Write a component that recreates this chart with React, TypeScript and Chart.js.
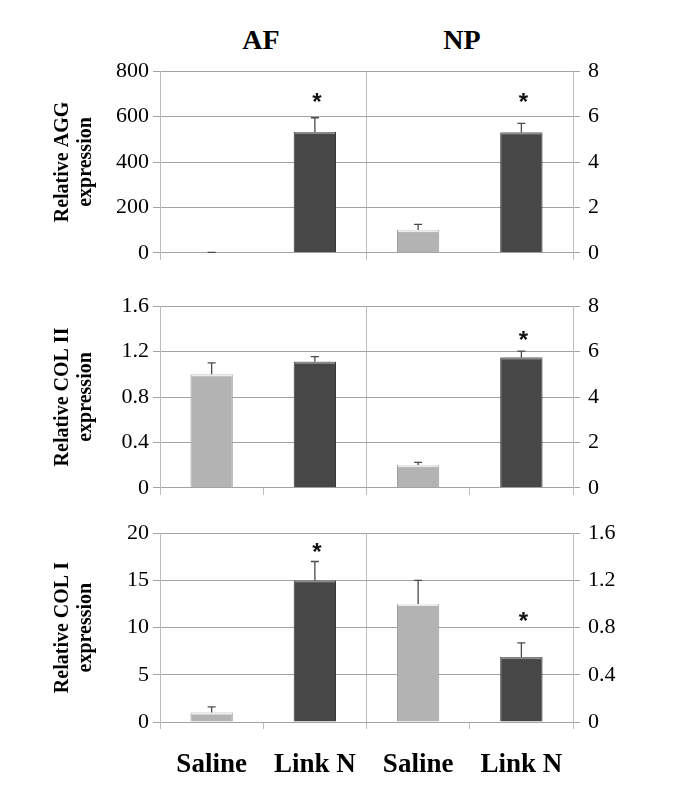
import React, { useEffect, useRef } from 'react';
import { Chart, registerables } from 'chart.js';
Chart.register(...registerables);

// ---------- data ----------
const categories = ['Saline', 'Link N', 'Saline', 'Link N'];
const groupTitles = ['AF', 'NP'];

// Panel 1: AGG
const aggAF = [1, 532];
const aggAFErr = [0.5, 63];
const aggNP = [1.0, 5.3];
const aggNPErr = [0.25, 0.4];
const aggAFStar = [null, 690];
const aggNPStar = [null, 6.9];
const aggLeftTicks = ['0', '200', '400', '600', '800'];
const aggRightTicks = ['0', '2', '4', '6', '8'];

// Panel 2: COL II
const col2AF = [1.0, 1.11];
const col2AFErr = [0.1, 0.045];
const col2NP = [1.0, 5.74];
const col2NPErr = [0.12, 0.28];
const col2AFStar = [null, null];
const col2NPStar = [null, 6.75];
const col2LeftTicks = ['0', '0.4', '0.8', '1.2', '1.6'];
const col2RightTicks = ['0', '2', '4', '6', '8'];

// Panel 3: COL I
const col1AF = [1.0, 15.0];
const col1AFErr = [0.6, 2.0];
const col1NP = [1.0, 0.55];
const col1NPErr = [0.2, 0.12];
const col1AFStar = [null, 18.6];
const col1NPStar = [null, 0.9];
const col1LeftTicks = ['0', '5', '10', '15', '20'];
const col1RightTicks = ['0', '0.4', '0.8', '1.2', '1.6'];

// ---------- styles ----------
const SERIF = "'Liberation Serif', 'Times New Roman', serif";
Chart.defaults.font.family = SERIF;
const LIGHT = '#b3b3b3';
const DARK = '#474747';
const GRID = '#a3a3a3';
const VGRID = '#bcbcbc';

type PanelCfg = {
  af: number[]; afErr: number[]; np: number[]; npErr: number[];
  afStar: (number | null)[]; npStar: (number | null)[];
  leftMax: number; leftStep: number; rightMax: number; rightStep: number;
  leftTicks: string[]; rightTicks: string[];
  title: string[]; showLabels: boolean; allTickMarks: boolean;
  top: number; height: number; xHeight: number;
};

const panels: PanelCfg[] = [
  {
    af: aggAF, afErr: aggAFErr, np: aggNP, npErr: aggNPErr, afStar: aggAFStar, npStar: aggNPStar,
    leftMax: 800, leftStep: 200, rightMax: 8, rightStep: 2,
    leftTicks: aggLeftTicks, rightTicks: aggRightTicks,
    title: ['Relative AGG', 'expression'], showLabels: false, allTickMarks: false,
    top: 42, height: 224, xHeight: 14,
  },
  {
    af: col2AF, afErr: col2AFErr, np: col2NP, npErr: col2NPErr, afStar: col2AFStar, npStar: col2NPStar,
    leftMax: 1.6, leftStep: 0.4, rightMax: 8, rightStep: 2,
    leftTicks: col2LeftTicks, rightTicks: col2RightTicks,
    title: ['Relative COL II', 'expression'], showLabels: false, allTickMarks: true,
    top: 277, height: 224, xHeight: 14,
  },
  {
    af: col1AF, afErr: col1AFErr, np: col1NP, npErr: col1NPErr, afStar: col1AFStar, npStar: col1NPStar,
    leftMax: 20, leftStep: 5, rightMax: 1.6, rightStep: 0.4,
    leftTicks: col1LeftTicks, rightTicks: col1RightTicks,
    title: ['Relative COL I', 'expression'], showLabels: true, allTickMarks: true,
    top: 504, height: 270, xHeight: 60,
  },
];

const CANVAS_W = 669;

function Panel({ cfg }: { cfg: PanelCfg }) {
  const ref = useRef<HTMLCanvasElement | null>(null);
  useEffect(() => {
    if (!ref.current) return;
    const afData = [cfg.af[0], cfg.af[1], null, null];
    const npData = [null, null, cfg.np[0], cfg.np[1]];
    const afErr = [cfg.afErr[0], cfg.afErr[1], null, null];
    const npErr = [null, null, cfg.npErr[0], cfg.npErr[1]];
    const afStar = [cfg.afStar[0], cfg.afStar[1], null, null];
    const npStar = [null, null, cfg.npStar[0], cfg.npStar[1]];
    const extras = [
      { errs: afErr, stars: afStar, axis: 'yL' },
      { errs: npErr, stars: npStar, axis: 'yR' },
    ];

    const errorPlugin = {
      id: 'errorBars',
      afterDatasetsDraw(chart: any) {
        const c = chart.ctx;
        c.save();
        extras.forEach((ex, di) => {
          const meta = chart.getDatasetMeta(di);
          const ds = chart.data.datasets[di];
          const scale = chart.scales[ex.axis];
          meta.data.forEach((bar: any, j: number) => {
            const v = ds.data[j];
            if (v == null) return;
            const half = bar.width / 2;
            const yb = bar.y;
            if (Math.abs(bar.base - yb) > 2) {
              c.fillStyle = j % 2 === 0 ? '#ececec' : '#8a8a8a';
              c.fillRect(bar.x - half + 1, yb, bar.width - 2, 2);
            }
            const e = ex.errs[j];
            if (e != null) {
              const yTop = scale.getPixelForValue(v + e);
              c.strokeStyle = '#4a4a4a';
              c.lineWidth = 1.3;
              c.beginPath();
              c.moveTo(bar.x, yb);
              c.lineTo(bar.x, yTop);
              c.moveTo(bar.x - 4, yTop);
              c.lineTo(bar.x + 4, yTop);
              c.stroke();
            }
            const s = ex.stars[j];
            if (s != null) {
              const size = 24;
              c.font = `bold ${size}px 'Liberation Sans', Arial, sans-serif`;
              c.fillStyle = '#111';
              c.textAlign = 'center';
              c.textBaseline = 'alphabetic';
              c.fillText('*', bar.x + 2, scale.getPixelForValue(s) + 0.57 * size);
            }
          });
        });
        c.restore();
      },
    };

    const barColor = (ctx: any) => (ctx.dataIndex % 2 === 0 ? LIGHT : DARK);
    const barBorder = (ctx: any) => (ctx.dataIndex % 2 === 0 ? '#9c9c9c' : '#2f2f2f');

    const chart = new Chart(ref.current, {
      type: 'bar',
      data: {
        labels: categories,
        datasets: [
          {
            data: afData as any, yAxisID: 'yL', backgroundColor: barColor, borderColor: barBorder,
            borderWidth: 1, grouped: false, barPercentage: 0.41, categoryPercentage: 1,
          },
          {
            data: npData as any, yAxisID: 'yR', backgroundColor: barColor, borderColor: barBorder,
            borderWidth: 1, grouped: false, barPercentage: 0.41, categoryPercentage: 1,
          },
        ],
      },
      options: {
        responsive: false,
        animation: false,
        events: [],
        font: { family: SERIF },
        layout: { padding: { top: 20, left: 0, right: 0, bottom: 0 } },
        plugins: { legend: { display: false }, tooltip: { enabled: false }, title: { display: false } },
        scales: {
          x: {
            position: 'bottom',
            grid: {
              offset: true,
              drawOnChartArea: true,
              tickLength: 7,
              color: (ctx: any) => ((ctx.index ?? 4) % 2 === 0 ? VGRID : 'rgba(0,0,0,0)'),
              tickColor: (ctx: any) =>
                cfg.allTickMarks || (ctx.index ?? 4) % 2 === 0 ? VGRID : 'rgba(0,0,0,0)',
            },
            border: { display: true, color: GRID },
            ticks: {
              display: cfg.showLabels,
              padding: 20,
              color: '#000',
              maxRotation: 0,
              font: { family: SERIF, size: 27, weight: 'bold' },
            },
            afterFit: (s: any) => { s.height = cfg.xHeight; },
          },
          yL: {
            position: 'left',
            min: 0, max: cfg.leftMax,
            ticks: {
              stepSize: cfg.leftStep,
              padding: 4,
              color: '#000',
              font: { family: SERIF, size: 22, weight: 'normal' },
              callback: (_v: any, i: number) => cfg.leftTicks[i],
            },
            grid: { color: GRID, tickLength: 7, drawTicks: true },
            border: { display: true, color: VGRID },
            title: {
              display: true,
              text: cfg.title,
              color: '#000',
              font: { family: SERIF, size: 20, weight: 'bold', lineHeight: 1.15 },
              padding: { top: 43, bottom: 0 },
            },
            afterFit: (s: any) => { s.width = 152; },
          },
          yR: {
            position: 'right',
            min: 0, max: cfg.rightMax,
            ticks: {
              stepSize: cfg.rightStep,
              padding: 8,
              color: '#000',
              font: { family: SERIF, size: 22, weight: 'normal' },
              callback: (_v: any, i: number) => cfg.rightTicks[i],
            },
            grid: { drawOnChartArea: false, color: GRID, tickLength: 7, drawTicks: true },
            border: { display: true, color: VGRID },
            afterFit: (s: any) => { s.width = CANVAS_W - 565; },
          },
        },
      } as any,
      plugins: [errorPlugin],
    });
    return () => chart.destroy();
  }, [cfg]);

  return (
    <canvas
      ref={ref}
      width={CANVAS_W}
      height={cfg.height}
      style={{ position: 'absolute', left: 0, top: cfg.top, width: CANVAS_W, height: cfg.height, display: 'block' }}
    />
  );
}

export default function App() {
  const titleStyle: React.CSSProperties = {
    position: 'absolute',
    top: 18,
    width: 120,
    textAlign: 'center',
    fontFamily: SERIF,
    fontWeight: 'bold',
    fontSize: 28,
    lineHeight: '28px',
    color: '#000',
  };
  return (
    <div style={{ position: 'relative', width: CANVAS_W, height: 785, background: '#fff' }}>
      <div style={{ ...titleStyle, left: 253 - 60 }}>{groupTitles[0]}</div>
      <div style={{ ...titleStyle, left: 454 - 60 }}>{groupTitles[1]}</div>
      {panels.map((p, i) => (
        <Panel key={i} cfg={p} />
      ))}
    </div>
  );
}
